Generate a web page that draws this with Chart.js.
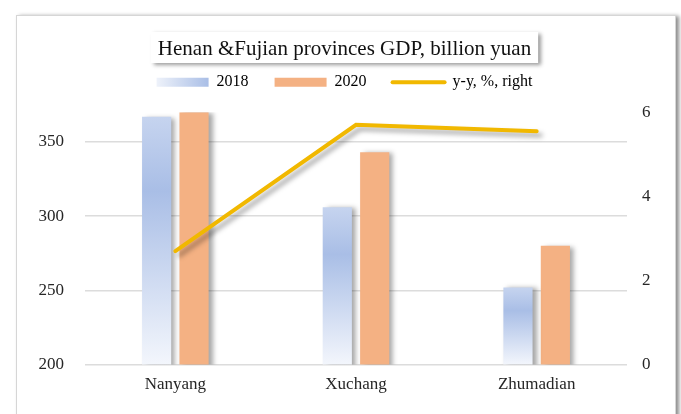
<!DOCTYPE html>
<html><head><meta charset="utf-8">
<script src="https://cdn.jsdelivr.net/npm/chart.js@4.4.0/dist/chart.umd.min.js"></script>
<style>
html,body{margin:0;padding:0;background:#fff;}
#wrap{position:relative;width:681px;height:414px;overflow:hidden;}
#card{position:absolute;left:16px;top:15px;width:658px;height:440px;border:1px solid #d6d6d6;background:#fff;box-shadow:3px 1px 4px rgba(0,0,0,0.45);}
canvas{position:absolute;left:0;top:0;}
</style></head><body>
<div id="wrap"><div id="card"></div><canvas id="c" width="681" height="414"></canvas></div>
<script>
	const categories = ['Nanyang', 'Xuchang', 'Zhumadian'];
	const gdp2018 = [367, 306, 252];
	const gdp2020 = [370, 343, 280];
	const yoy = [2.7, 5.7, 5.55];
	const leftTicks = [200, 250, 300, 350];
	const rightTicks = [0, 2, 4, 6];
	const titleText = 'Henan &Fujian provinces GDP, billion yuan';

	const serif = "'Liberation Serif', 'Times New Roman', serif";
	const textColor = '#262626';

	// vertical gradient per bar, like the office-style fill
	const blueFill = (c) => {
		const chart = c.chart;
		const y = chart.scales.y;
		if (!y || c.raw == null) return '#b7c8ea';
		const top = y.getPixelForValue(c.raw), bot = y.getPixelForValue(200);
		const g = chart.ctx.createLinearGradient(0, top, 0, bot);
		g.addColorStop(0, '#c6d4ef');
		g.addColorStop(0.3, '#a9bee6');
		g.addColorStop(1, '#f3f6fc');
		return g;
	};

	const shadow = {
		id: 'shadow',
		beforeDatasetDraw(chart, args) {
			const ctx = chart.ctx;
			ctx.save();
			ctx.shadowColor = 'rgba(0,0,0,0.35)';
			ctx.shadowBlur = 5;
			ctx.shadowOffsetX = 4;
			ctx.shadowOffsetY = args.meta.type === 'line' ? 4 : 1;
		},
		afterDatasetDraw(chart) { chart.ctx.restore(); }
	};

	const titleBox = {
		id: 'titleBox',
		beforeDraw(chart) {
			const ctx = chart.ctx;
			ctx.save();
			ctx.font = '21px ' + serif;
			const w = ctx.measureText(titleText).width;
			const tb = chart.titleBlock;
			const cx = (tb.left + tb.right) / 2;
			ctx.shadowColor = 'rgba(0,0,0,0.4)';
			ctx.shadowBlur = 4;
			ctx.shadowOffsetX = 3;
			ctx.shadowOffsetY = 2;
			ctx.fillStyle = '#fff';
			ctx.fillRect(cx - w / 2 - 7, 32, w + 14, 31);
			ctx.restore();
			const hb = chart.legend.legendHitBoxes && chart.legend.legendHitBoxes[0];
			if (hb) {
				const g = ctx.createLinearGradient(hb.left, 0, hb.left + 52, 0);
				g.addColorStop(0, '#eef2fa');
				g.addColorStop(1, '#a9bee6');
				chart.legend.legendItems[0].fillStyle = g;
			}
		}
	};

	const legendGap = {
		id: 'legendGap',
		beforeInit(chart) {
			const fit = chart.legend.fit;
			chart.legend.fit = function () { fit.bind(chart.legend)(); this.height += 12; };
		}
	};

	new Chart(document.getElementById('c'), {
		type: 'bar',
		data: {
			labels: categories,
			datasets: [
				{ type: 'line', label: 'y-y, %, right', data: yoy, yAxisID: 'y1', order: 0,
				  borderColor: '#f1b800', borderWidth: 4, borderCapStyle: 'round', pointRadius: 0, tension: 0 },
				{ label: '2018', data: gdp2018, yAxisID: 'y', order: 1, backgroundColor: blueFill,
				  barPercentage: 0.78, categoryPercentage: 0.414 },
				{ label: '2020', data: gdp2020, yAxisID: 'y', order: 1, backgroundColor: '#f4b183',
				  barPercentage: 0.78, categoryPercentage: 0.414 }
			]
		},
		options: {
			responsive: false,
			animation: false,
			devicePixelRatio: 1,
			layout: { padding: { left: 8, right: 0, top: 0, bottom: 9 } },
			plugins: {
				tooltip: { enabled: false },
				title: { display: true, text: titleText, color: '#111',
					font: { family: serif, size: 21, weight: 'normal' }, padding: { top: 37, bottom: 2 } },
				legend: { display: true,
					labels: { usePointStyle: true, pointStyleWidth: 52, boxHeight: 9, padding: 10,
						color: textColor, font: { family: serif, size: 16 },
						generateLabels: () => [
							{ text: '2018    ', fillStyle: '#c9d6f0', strokeStyle: 'transparent', lineWidth: 0, pointStyle: 'rect', datasetIndex: 1 },
							{ text: '2020    ', fillStyle: '#f4b183', strokeStyle: 'transparent', lineWidth: 0, pointStyle: 'rect', datasetIndex: 2 },
							{ text: 'y-y, %, right', fillStyle: '#f1b800', strokeStyle: '#f1b800', lineWidth: 4, lineCap: 'round', pointStyle: 'line', datasetIndex: 0 }
						] } }
			},
			scales: {
				x: { grid: { display: false, drawTicks: false }, border: { display: false },
					ticks: { color: textColor, font: { family: serif, size: 17 }, padding: 10 } },
				y: { position: 'left', min: 200, max: 370,
					afterBuildTicks: (s) => { s.ticks = leftTicks.map(v => ({ value: v })); },
					afterFit: (s) => { s.width = 77; },
					grid: { color: '#dcdcdc', lineWidth: 1.5, drawTicks: false }, border: { display: false },
					ticks: { color: textColor, font: { family: serif, size: 17 }, padding: 21 } },
				y1: { position: 'right', min: 0, max: 6,
					afterBuildTicks: (s) => { s.ticks = rightTicks.map(v => ({ value: v })); },
					afterFit: (s) => { s.width = 54; },
					grid: { display: false, drawTicks: false }, border: { display: false },
					ticks: { color: textColor, font: { family: serif, size: 17 }, padding: 15 } }
			}
		},
		plugins: [legendGap, titleBox, shadow]
	});
</script>
</body></html>
